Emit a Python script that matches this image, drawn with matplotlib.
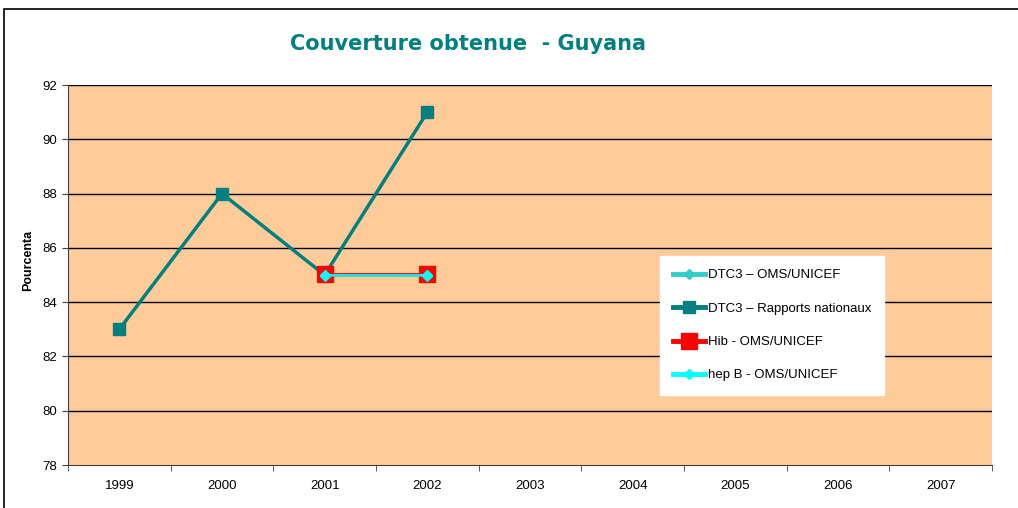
import matplotlib.pyplot as plt
from matplotlib.patches import Rectangle

plt.rcParams['font.family'] = ['Liberation Sans', 'DejaVu Sans']

# Données
annees = ["1999", "2000", "2001", "2002", "2003", "2004", "2005", "2006", "2007"]
dtc3_oms_x = [2, 3]
dtc3_oms = [85, 85]
dtc3_nat_x = [0, 1, 2, 3]
dtc3_nat = [83, 88, 85, 91]
hib_oms_x = [2, 3]
hib_oms = [85, 85]
hepb_oms_x = [2, 3]
hepb_oms = [85, 85]

fig = plt.figure(figsize=(10.18, 5.08), dpi=100)
fig.patches.append(Rectangle((4 / 1018, -0.1), 1.1, 1 - 9 / 508 + 0.1,
                             transform=fig.transFigure, fill=False,
                             edgecolor="black", linewidth=1.2))

ax = fig.add_axes([68 / 1018, 1 - 465 / 508, 924 / 1018, 380 / 508])
ax.set_facecolor("#FFCC99")

ax.plot(dtc3_nat_x, dtc3_nat, color="#008080", lw=2.5, marker="s",
        markersize=8, label="DTC3 – Rapports nationaux", zorder=3)
ax.plot(hib_oms_x, [v + 0.03 for v in hib_oms], color="#FF0000", lw=2,
        marker="s", markersize=11, label="Hib - OMS/UNICEF", zorder=4)
ax.plot(dtc3_oms_x, [v - 0.04 for v in dtc3_oms], color="#33CCCC", lw=1.2,
        marker="D", markersize=5, label="DTC3 – OMS/UNICEF", zorder=5)
ax.plot(hepb_oms_x, hepb_oms, color="#00FFFF", lw=1.2, marker="D",
        markersize=5, label="hep B - OMS/UNICEF", zorder=6)

ax.set_xlim(-0.5, len(annees) - 0.5)
ax.set_ylim(78, 92)
ax.set_yticks(range(78, 93, 2))
ax.set_xticks(range(len(annees)))
ax.set_xticklabels(annees)
ax.set_xticks([i + 0.5 for i in range(-1, len(annees))], minor=True)
ax.tick_params(axis="x", which="major", length=0, pad=11, labelsize=9.5)
ax.tick_params(axis="x", which="minor", length=4, direction="out", color="#404040")
ax.tick_params(axis="y", length=4, direction="out", labelsize=9.5, pad=4,
               color="#404040")

for y in range(80, 93, 2):
    ax.axhline(y, color="black", lw=1, zorder=1)

for s in ["top", "right"]:
    ax.spines[s].set_visible(False)
ax.spines["left"].set_color("#404040")
ax.spines["bottom"].set_color("#404040")

handles, labels = ax.get_legend_handles_labels()
order = [2, 0, 1, 3]
leg = ax.legend([handles[i] for i in order], [labels[i] for i in order],
                loc="upper left", bbox_to_anchor=(0.641, 0.55), fancybox=False,
                framealpha=1, edgecolor="white", fontsize=9.5,
                labelspacing=1.6, handlelength=2.4, handletextpad=0.2,
                borderpad=1.0, borderaxespad=0, markerscale=1.0)
for line in leg.get_lines():
    line.set_linewidth(3.5)

fig.text(468 / 1018, 1 - 44 / 508, "Couverture obtenue  - Guyana",
         ha="center", va="center", fontsize=15, fontweight="bold",
         color="#008080", family="DejaVu Sans")
fig.text(28 / 1018, 1 - 260 / 508, "Pourcenta", rotation=90, ha="center",
         va="center", fontsize=9, fontweight="bold")

fig.savefig("out.png", dpi=100)
